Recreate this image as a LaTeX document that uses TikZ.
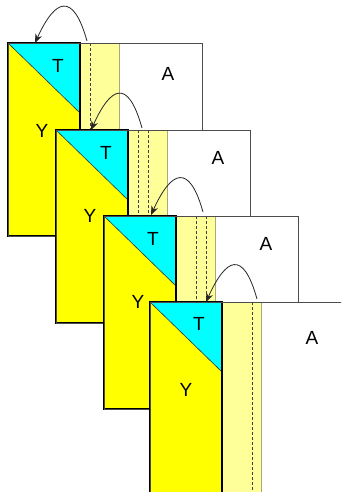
\documentclass[tikz,border=0pt]{standalone}
\usepackage{fontspec}
\setmainfont{Liberation Sans}
\usetikzlibrary{arrows.meta}
\definecolor{cyanT}{HTML}{00FFFF}
\definecolor{yelY}{HTML}{FFFF00}
\definecolor{paleY}{HTML}{FFFF99}
\definecolor{stripline}{HTML}{A8A880}
\tikzset{
  dashline/.style={draw=black!75, line width=0.7pt, dash pattern=on 3pt off 2pt},
  panel/.style={draw=black, line width=1.2pt},
  outer/.style={draw=black!70, line width=0.9pt},
  diag/.style={draw=black!80, line width=0.6pt},
  lbl/.style={inner sep=0pt, font=\fontsize{19}{22}\selectfont},
  arr/.style={draw=black!85, line width=0.8pt, -{Stealth[length=9pt,width=7pt]}}
}
\newcommand\myframe[4]{%
  \begin{scope}[shift={(#2,#3)}]
    \fill[white] (0,0) rectangle (194,193);
    \fill[paleY] (72,0) rectangle (111,193);
    \draw[stripline, line width=0.7pt] (111,0) -- (111,193);
    \foreach \d in {#4} \draw[dashline] (\d,0) -- (\d,193);
    \fill[yelY] (0,0) rectangle (72,193);
    \fill[cyanT] (0,0) -- (72,0) -- (72,70) -- cycle;
    \draw[diag] (0,0) -- (72,70);
    \draw[panel] (0,0) rectangle (72,193);
    \draw[outer] (0,0) rectangle (194,193);
    \coordinate (#1) at (0,0);
  \end{scope}}
\begin{document}
\begin{tikzpicture}[x=1pt,y=-1pt]
  \useasboundingbox (0,0) rectangle (341,492);
  \clip (0,0) rectangle (341,492);
  \fill[white] (0,0) rectangle (341,492);
  \myframe{f1}{8}{43}{82}
  \node[lbl] (T1) at (58,66) {T};
  \node[lbl] (A1) at (168,74) {A};
  \node[lbl] (Y1) at (42,131) {Y};
  \myframe{f2}{56}{130}{82,92}
  \node[lbl] (T2) at (106,153) {T};
  \node[lbl] (A2) at (218,158) {A};
  \node[lbl] (Y2) at (90,216) {Y};
  \myframe{f3}{104}{216}{92,102}
  \node[lbl] (T3) at (153,239) {T};
  \node[lbl] (A3) at (266,244) {A};
  \node[lbl] (Y3) at (138,302) {Y};
  \myframe{f4}{150}{302}{102}
  \node[lbl] (T4) at (199,324) {T};
  \node[lbl] (A4) at (312,338) {A};
  \node[lbl] (Y4) at (186,390) {Y};
  % arrow end points
  \coordinate (s1) at (87,41);   \coordinate (e1) at (35,43);
  \coordinate (s2) at (142,128); \coordinate (e2) at (91,130);
  \coordinate (s3) at (203,212); \coordinate (e3) at (151,215);
  \coordinate (s4) at (257,299); \coordinate (e4) at (206,302);
  \foreach \k in {1,2,3,4}
    \draw[arr] (s\k) .. controls +(-14,-50) and +(20,-44) .. (e\k);
\end{tikzpicture}
\end{document}
